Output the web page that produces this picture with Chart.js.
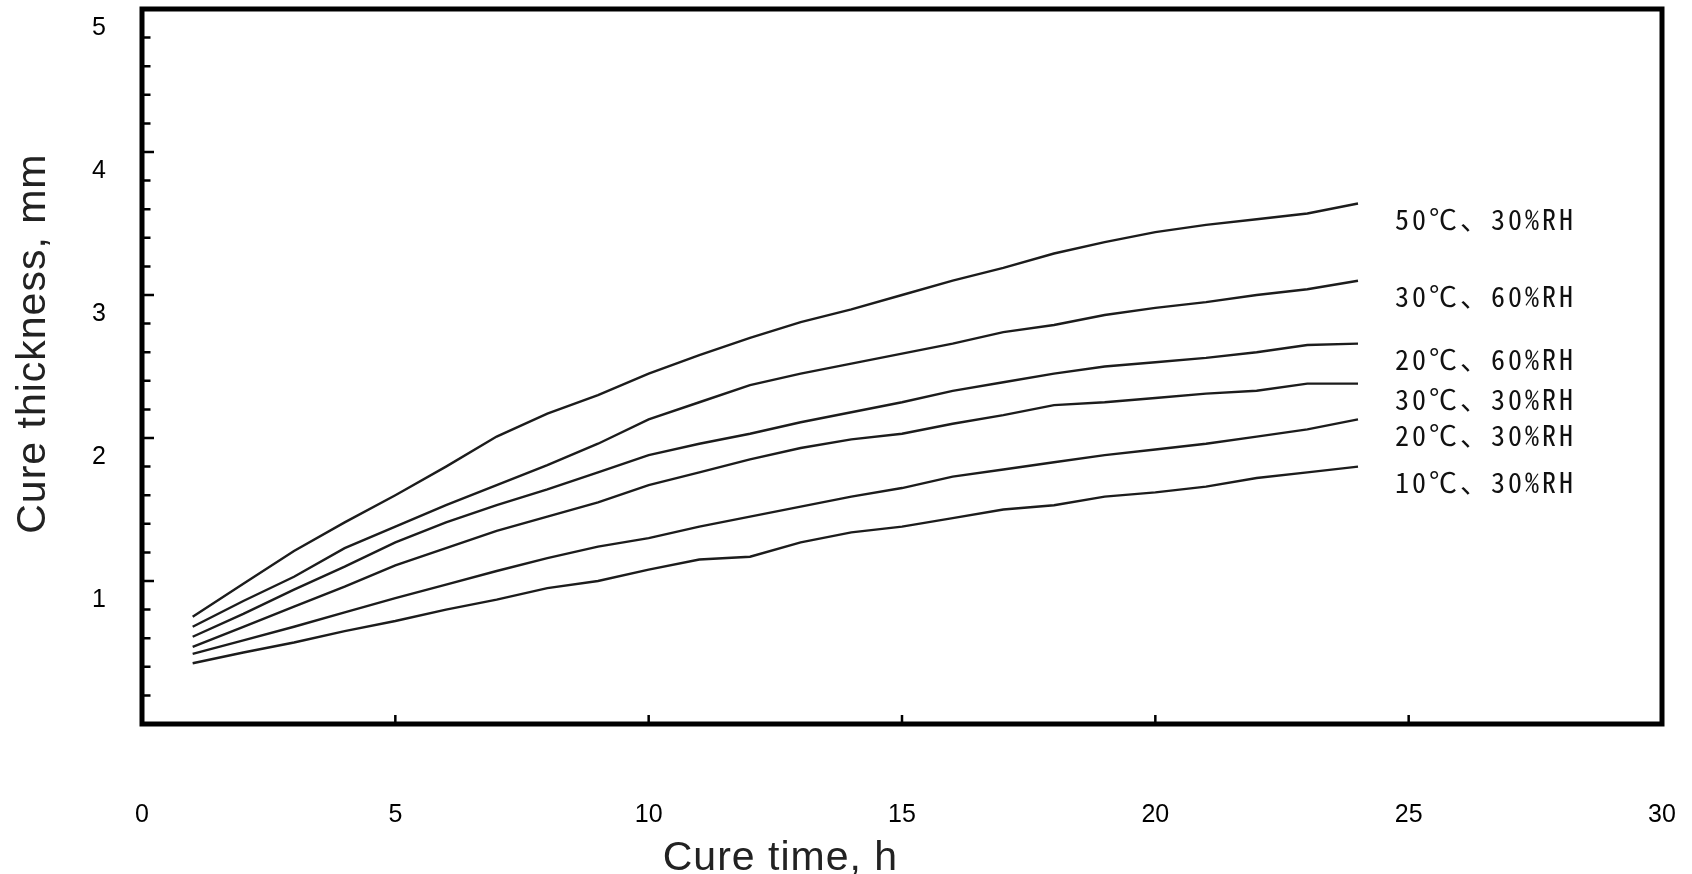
<!DOCTYPE html>
<html>
<head>
<meta charset="utf-8">
<title>Cure thickness vs cure time</title>
<script src="https://cdn.jsdelivr.net/npm/chart.js@4.4.1/dist/chart.umd.min.js"></script>
<style>
  html, body { margin: 0; padding: 0; background: #fff; }
  #wrap { position: relative; width: 1692px; height: 874px; }
</style>
</head>
<body>
<div id="wrap"><canvas id="chart"></canvas></div>
<script>
// ── Values (cure thickness in mm, per hour) ────────────────────────────────────
const hours = [1, 2, 3, 4, 5, 6, 7, 8, 9, 10, 11, 12, 13, 14, 15, 16, 17, 18, 19, 20, 21, 22, 23, 24];

const t50rh30 = [0.75, 0.98, 1.21, 1.41, 1.60, 1.80, 2.01, 2.17, 2.30, 2.45, 2.58, 2.70,
                 2.81, 2.90, 3.00, 3.10, 3.19, 3.29, 3.37, 3.44, 3.49, 3.53, 3.57, 3.64];
const t30rh60 = [0.68, 0.86, 1.03, 1.23, 1.38, 1.53, 1.67, 1.81, 1.96, 2.13, 2.25, 2.37,
                 2.45, 2.52, 2.59, 2.66, 2.74, 2.79, 2.86, 2.91, 2.95, 3.00, 3.04, 3.10];
const t20rh60 = [0.61, 0.77, 0.94, 1.10, 1.27, 1.41, 1.53, 1.64, 1.76, 1.88, 1.96, 2.03,
                 2.11, 2.18, 2.25, 2.33, 2.39, 2.45, 2.50, 2.53, 2.56, 2.60, 2.65, 2.66];
const t30rh30 = [0.54, 0.68, 0.82, 0.96, 1.11, 1.23, 1.35, 1.45, 1.55, 1.67, 1.76, 1.85,
                 1.93, 1.99, 2.03, 2.10, 2.16, 2.23, 2.25, 2.28, 2.31, 2.33, 2.38, 2.38];
const t20rh30 = [0.49, 0.585, 0.68, 0.78, 0.88, 0.975, 1.07, 1.16, 1.24, 1.30, 1.38, 1.45,
                 1.52, 1.59, 1.65, 1.73, 1.78, 1.83, 1.88, 1.92, 1.96, 2.01, 2.06, 2.13];
const t10rh30 = [0.425, 0.50, 0.57, 0.65, 0.72, 0.80, 0.87, 0.95, 1.00, 1.08, 1.15, 1.17,
                 1.27, 1.34, 1.38, 1.44, 1.50, 1.53, 1.59, 1.62, 1.66, 1.72, 1.76, 1.80];

const seriesNames  = ['50℃、30%RH', '30℃、60%RH', '20℃、60%RH', '30℃、30%RH', '20℃、30%RH', '10℃、30%RH'];
const seriesValues = [t50rh30, t30rh60, t20rh60, t30rh30, t20rh30, t10rh30];

const xTitle = 'Cure time, h';
const yTitle = 'Cure thickness, mm';

// ── Styling ───────────────────────────────────────────────────────────────────
const INK        = '#000';
const LINE_INK   = '#1c1c1c';
const TICK_FONT  = { family: '"Liberation Sans", Arial, sans-serif', size: 25 };
const TITLE_FONT = '41px "Liberation Sans", Arial, sans-serif';
const NOTE_FONT  = '28px "Noto Sans Mono CJK JP", "Noto Sans CJK JP", monospace';

const isWhole = v => Math.abs(v - Math.round(v)) < 1e-6;

// Frame, inward tick marks, axis titles and the end-of-line notes.
const framePlugin = {
  id: 'frame',
  afterDraw(chart) {
    const { ctx, chartArea: a, scales: { x, y } } = chart;
    ctx.save();
    ctx.strokeStyle = INK;

    ctx.lineWidth = 2.5;
    ctx.beginPath();
    y.ticks.forEach(t => {
      const py = y.getPixelForValue(t.value);
      ctx.moveTo(a.left, py);
      ctx.lineTo(a.left + (isWhole(t.value) ? 12 : 8.5), py);
    });
    x.ticks.forEach(t => {
      const px = x.getPixelForValue(t.value);
      ctx.moveTo(px, a.bottom);
      ctx.lineTo(px, a.bottom - 9);
    });
    ctx.stroke();

    ctx.lineWidth = 5;
    ctx.strokeRect(a.left, a.top, a.right - a.left, a.bottom - a.top);

    // axis titles
    ctx.fillStyle = '#222';
    ctx.font = TITLE_FONT;
    ctx.letterSpacing = '1px';
    ctx.textAlign = 'center';
    ctx.textBaseline = 'middle';
    ctx.fillText(xTitle, a.left + 0.42 * (a.right - a.left), a.bottom + 135);
    ctx.save();
    ctx.translate(a.left - 108, a.top + 0.468 * (a.bottom - a.top));
    ctx.rotate(-Math.PI / 2);
    ctx.fillText(yTitle, 0, 0);
    ctx.restore();

    // series notes just past the last point of each line
    ctx.fillStyle = '#111';
    ctx.font = NOTE_FONT;
    ctx.letterSpacing = '3px';
    ctx.textAlign = 'left';
    chart.data.datasets.forEach(ds => {
      const last = ds.data[ds.data.length - 1];
      ctx.fillText(ds.label, x.getPixelForValue(last.x) + 37, y.getPixelForValue(last.y) + 16);
    });
    ctx.restore();
  }
};

new Chart(document.getElementById('chart').getContext('2d'), {
  type: 'line',
  data: {
    datasets: seriesNames.map((name, i) => ({
      label: name,
      data: hours.map((h, j) => ({ x: h, y: seriesValues[i][j] })),
      borderColor: LINE_INK,
      borderWidth: 2.4,
      tension: 0,
      fill: false,
      pointRadius: 0
    }))
  },
  options: {
    responsive: true,
    maintainAspectRatio: false,
    animation: false,
    parsing: false,
    layout: { padding: { top: 9, right: 30, left: 0, bottom: 0 } },
    plugins: {
      legend: { display: false },
      tooltip: { enabled: false }
    },
    scales: {
      x: {
        type: 'linear', min: 0, max: 30,
        // fixed band under the plot; drop the label overhang padding
        afterFit: s => { s.height = 150; s.paddingLeft = 0; s.paddingRight = 0; },
        grid: { display: false, drawTicks: false },
        border: { display: false },
        ticks: { stepSize: 5, color: INK, font: TICK_FONT, padding: 76, maxRotation: 0, autoSkip: false }
      },
      y: {
        type: 'linear', min: 0, max: 5,
        afterFit: s => { s.width = 142; s.paddingTop = 0; s.paddingBottom = 0; },
        grid: { display: false, drawTicks: false },
        border: { display: false },
        ticks: {
          stepSize: 0.2, color: INK, font: TICK_FONT, padding: 36, labelOffset: 19, autoSkip: false,
          callback: v => (isWhole(v) && v > 0.5) ? String(Math.round(v)) : ''
        }
      }
    }
  },
  plugins: [framePlugin]
});
</script>
</body>
</html>
